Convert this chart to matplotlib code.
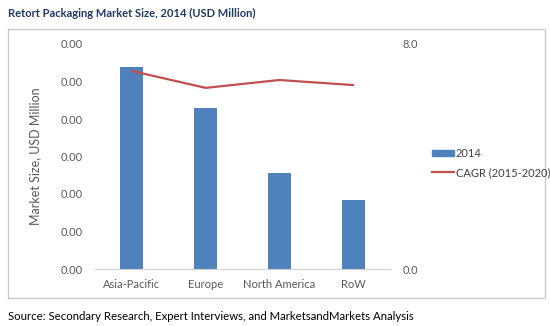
import matplotlib
matplotlib.use("Agg")
import matplotlib.pyplot as plt
from matplotlib.patches import Rectangle
from matplotlib.lines import Line2D

categories = ["Asia-Pacific", "Europe", "North America", "RoW"]
market_2014 = [5.39, 4.29, 2.56, 1.84]
cagr = [7.04, 6.44, 6.72, 6.54]
left_ticks = [0, 1, 2, 3, 4, 5, 6]
left_labels = ["0.00"] * 7
right_ticks = [0, 8]
right_labels = ["0.0", "8.0"]

W, H = 550, 326
fig = plt.figure(figsize=(W / 100, H / 100), dpi=100)
plt.rcParams['font.family'] = ['Lato', 'DejaVu Sans']

# outer frame
fig.patches.append(Rectangle((8 / W, 1 - 298 / H), (545 - 8) / W, (298 - 29) / H,
                             transform=fig.transFigure, fill=False,
                             edgecolor="#c8c8c8", linewidth=0.9))

ax = fig.add_axes([95 / W, 1 - 269 / H, 295 / W, 225 / H])
x = list(range(len(categories)))
bar_color = "#4f81bd"
line_color = "#c0504d"
ax.bar(x, market_2014, width=0.31, color=bar_color, zorder=2)
ax.set_xlim(-0.5, len(categories) - 0.5)
ax.set_ylim(0, 6)
ax.set_yticks(left_ticks)
ax.set_yticklabels(left_labels)
ax.set_xticks(x)
ax.set_xticklabels(categories)
for s in ["top", "left", "right"]:
    ax.spines[s].set_visible(False)
ax.spines["bottom"].set_color("#d0d0d0")
ax.tick_params(axis="both", length=0, labelsize=8, colors="#595959")
ax.tick_params(axis="y", pad=9)
ax.tick_params(axis="x", pad=7)
ax.set_ylabel("Market Size, USD Million", fontsize=9, color="#595959", labelpad=14)

ax2 = ax.twinx()
ax2.plot(x, cagr, color=line_color, linewidth=1.6, zorder=3)
ax2.set_ylim(0, 8)
ax2.set_yticks(right_ticks)
ax2.set_yticklabels(right_labels)
for s in ["top", "left", "right", "bottom"]:
    ax2.spines[s].set_visible(False)
ax2.tick_params(axis="y", length=0, labelsize=8, colors="#595959", pad=9)

handles = [Rectangle((0, 0), 1, 1, color=bar_color),
           Line2D([], [], color=line_color, linewidth=1.6)]
fig.legend(handles, ["2014", "CAGR (2015-2020)"], loc="center left",
           bbox_to_anchor=(426 / W, 1 - 163 / H), frameon=False, fontsize=8,
           labelcolor="#404040", handlelength=2.0, handleheight=0.5,
           handletextpad=0.2, labelspacing=0.7, borderpad=0)

fig.text(8 / W, 1 - 13 / H, "Retort Packaging Market Size, 2014 (USD Million)",
         fontsize=8, fontweight="bold", color="#1f3864", va="center", ha="left")
fig.text(8 / W, 1 - 316 / H,
         "Source: Secondary Research, Expert Interviews, and MarketsandMarkets Analysis",
         fontsize=8.2, color="#000000", va="center", ha="left")

fig.savefig("out.png", dpi=100)
